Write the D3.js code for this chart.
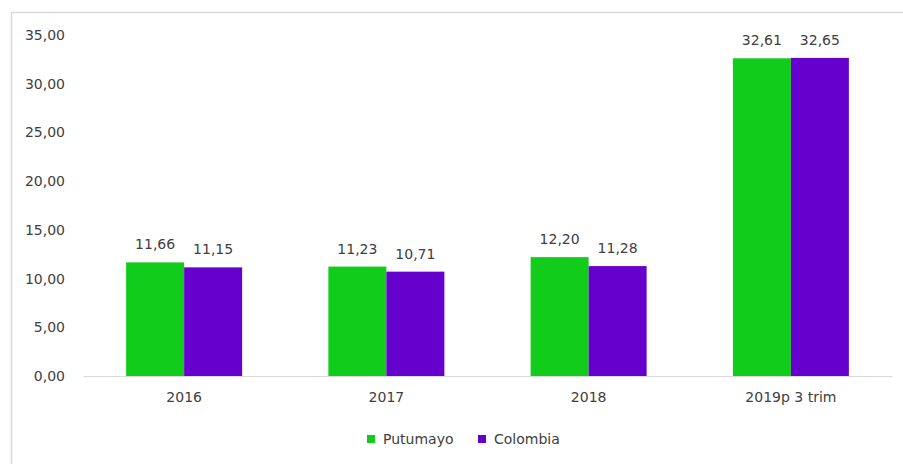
<!DOCTYPE html>
<html>
<head>
<meta charset="utf-8">
<script src="https://cdn.jsdelivr.net/npm/d3@7"></script>
<style>
  html, body { margin: 0; padding: 0; background: #fff; }
  svg { display: block; font-family: "DejaVu Sans", "Open Sans", sans-serif; }
</style>
</head>
<body>
<svg id="chart" width="903" height="464"></svg>
<script>
// Chart data
const categories = ["2016", "2017", "2018", "2019p 3 trim"];
const seriesNames = ["Putumayo", "Colombia"];
const putumayo = [11.66, 11.23, 12.20, 32.61];
const colombia = [11.15, 10.71, 11.28, 32.65];
const yTicks = [0, 5, 10, 15, 20, 25, 30, 35];
const colors = ["#11cc1a", "#6600cc"];

const svg = d3.select("#chart");
const W = 903, H = 464;
const margin = { left: 83, right: 11, top: 35, bottom: 88 };
const fontSize = "14px";
const textColor = "#404040";

const fmt = v => d3.format(".2f")(v).replace(".", ",");

// Outer frame
svg.append("rect")
  .attr("x", 11.5).attr("y", 12.5)
  .attr("width", W).attr("height", H)
  .attr("fill", "none").attr("stroke", "#d9d9d9").attr("stroke-width", 1.5);

const x0 = d3.scaleBand()
  .domain(categories)
  .range([margin.left, W - margin.right])
  .paddingInner(0).paddingOuter(0);

const groupW = 116;
const x1 = d3.scaleBand()
  .domain(seriesNames)
  .range([0, groupW]);

const y = d3.scaleLinear()
  .domain([0, 35])
  .range([H - margin.bottom, margin.top]);

// Y axis labels
const yAxis = d3.axisLeft(y).tickValues(yTicks).tickFormat(fmt).tickSize(0).tickPadding(0);
const gy = svg.append("g").attr("transform", `translate(65,0)`).call(yAxis);
gy.select(".domain").remove();
gy.selectAll("text").attr("fill", textColor).style("font-size", fontSize)
  .style("font-family", "'DejaVu Sans', sans-serif");

// Bars
const rows = categories.map((c, i) => ({ cat: c, vals: [putumayo[i], colombia[i]] }));
const groups = svg.append("g").selectAll("g")
  .data(rows).join("g")
  .attr("transform", d => `translate(${x0(d.cat) + (x0.bandwidth() - groupW) / 2},0)`);

groups.selectAll("rect")
  .data(d => d.vals.map((v, j) => ({ name: seriesNames[j], v, j })))
  .join("rect")
  .attr("x", d => x1(d.name))
  .attr("y", d => y(d.v))
  .attr("width", x1.bandwidth())
  .attr("height", d => y(0) - y(d.v))
  .attr("fill", d => colors[d.j]);

groups.selectAll("text.val")
  .data(d => d.vals.map((v, j) => ({ name: seriesNames[j], v, j })))
  .join("text")
  .attr("class", "val")
  .attr("x", d => x1(d.name) + x1.bandwidth() / 2)
  .attr("y", d => y(d.v) - 13)
  .attr("text-anchor", "middle")
  .attr("fill", textColor)
  .style("font-size", fontSize)
  .text(d => fmt(d.v));

// X axis
const xAxis = d3.axisBottom(x0).tickSize(0).tickPadding(16);
const gx = svg.append("g").attr("transform", `translate(0,${y(0)})`).call(xAxis);
gx.select(".domain").attr("stroke", "#d9d9d9").attr("stroke-width", 1.2);
gx.selectAll("text").attr("fill", textColor).style("font-size", fontSize)
  .style("font-family", "'DejaVu Sans', sans-serif");

// Legend
const legend = svg.append("g").attr("transform", "translate(367,439)");
const legendX = [0, 111];
seriesNames.forEach((name, i) => {
  const g = legend.append("g").attr("transform", `translate(${legendX[i]},0)`);
  g.append("rect").attr("x", 0).attr("y", -4).attr("width", 8).attr("height", 8).attr("fill", colors[i]);
  g.append("text").attr("x", 16).attr("y", 0).attr("dy", "0.35em")
    .attr("fill", textColor).style("font-size", fontSize).text(name);
});
</script>
</body>
</html>
